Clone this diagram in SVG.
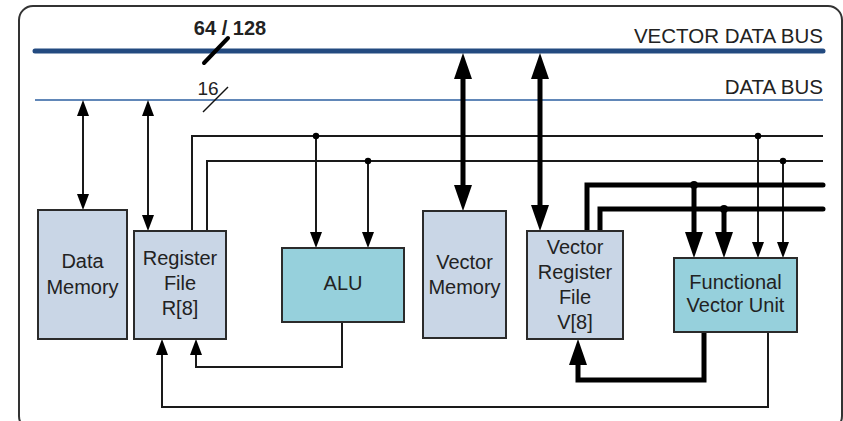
<svg xmlns="http://www.w3.org/2000/svg" width="843" height="421" viewBox="0 0 843 421">
<style>
.box{stroke:#2b2b2b;stroke-width:2}
.mem{fill:#c9d6e6}
.fu{fill:#96d0dc}
.lbl{font-family:"Liberation Sans",Arial,sans-serif;font-size:20px;fill:#222;text-anchor:middle}
.bus{font-family:"Liberation Sans",Arial,sans-serif;font-size:20.5px;fill:#222;text-anchor:end}
.thin{fill:none;stroke:#1a1a1a;stroke-width:2}
.thick{fill:none;stroke:#000;stroke-width:5}
.dot{fill:#000}
</style>
<defs>
<marker id="arrT" viewBox="0 0 16 12" refX="8" refY="6" markerWidth="16" markerHeight="12" markerUnits="userSpaceOnUse" orient="auto-start-reverse"><path d="M0,0 L16,6 L0,12 z" fill="#000"/></marker>
<marker id="arrB" viewBox="0 0 26 18" refX="13" refY="9" markerWidth="26" markerHeight="18" markerUnits="userSpaceOnUse" orient="auto-start-reverse"><path d="M0,0 L26,9 L0,18 z" fill="#000"/></marker>
</defs>
<rect x="19" y="6" width="823" height="424" rx="14" fill="#fff" stroke="#333" stroke-width="2"/>
<g id="buses">
<line x1="35" y1="51" x2="823" y2="51" stroke="#234a80" stroke-width="5" stroke-linecap="round"/>
<line x1="35" y1="100" x2="823" y2="100" stroke="#2c5fa0" stroke-width="1.6"/>
<text class="bus" x="823" y="43">VECTOR DATA BUS</text>
<text class="bus" x="823" y="94">DATA BUS</text>
<line x1="204" y1="63" x2="228" y2="38" stroke="#000" stroke-width="4" stroke-linecap="round"/>
<text x="230" y="35" font-family="Liberation Sans,Arial,sans-serif" font-size="20" font-weight="bold" fill="#222" text-anchor="middle">64 / 128</text>
<line x1="203" y1="112" x2="228" y2="87" stroke="#111" stroke-width="1.5"/>
<text x="208" y="95" font-family="Liberation Sans,Arial,sans-serif" font-size="19" fill="#222" text-anchor="middle">16</text>
</g>
<g id="connectors">
<path class="thin" d="M83,108 L83,202" marker-start="url(#arrT)" marker-end="url(#arrT)"/>
<path class="thin" d="M148,108 L148,223" marker-start="url(#arrT)" marker-end="url(#arrT)"/>
<path class="thin" d="M192,231 L192,136 L823,136"/>
<path class="thin" d="M207,231 L207,161 L823,161"/>
<path class="thin" d="M316,136 L316,240" marker-end="url(#arrT)"/>
<path class="thin" d="M368,161 L368,240" marker-end="url(#arrT)"/>
<path class="thin" d="M758,136 L758,250" marker-end="url(#arrT)"/>
<path class="thin" d="M783,161 L783,250" marker-end="url(#arrT)"/>
<circle class="dot" cx="316" cy="136" r="3.2"/>
<circle class="dot" cx="368" cy="161" r="3.2"/>
<circle class="dot" cx="758" cy="136" r="3.2"/>
<circle class="dot" cx="783" cy="161" r="3.2"/>
<path class="thin" d="M342,322 L342,367 L196,367 L196,347" marker-end="url(#arrT)"/>
<path class="thin" d="M768,332 L768,407 L162,407 L162,347" marker-end="url(#arrT)"/>
<path class="thick" d="M463,66 L463,198" marker-start="url(#arrB)" marker-end="url(#arrB)"/>
<path class="thick" d="M540,66 L540,218" marker-start="url(#arrB)" marker-end="url(#arrB)"/>
<path class="thick" d="M587,231 L587,185 L823,185" stroke-linecap="round"/>
<path class="thick" d="M600,231 L600,209 L823,209" stroke-linecap="round"/>
<path class="thick" d="M694,185 L694,245" marker-end="url(#arrB)"/>
<path class="thick" d="M724,209 L724,245" marker-end="url(#arrB)"/>
<circle class="dot" cx="694" cy="185" r="4"/>
<circle class="dot" cx="724" cy="209" r="4"/>
<path class="thick" d="M704,332 L704,380 L578,380 L578,352" marker-end="url(#arrB)"/>
</g>
<g id="data-memory">
<rect class="box mem" x="38" y="210" width="89" height="129"/>
<text class="lbl" x="82.5" y="268">Data</text>
<text class="lbl" x="82.5" y="294">Memory</text>
</g>
<g id="register-file">
<rect class="box mem" x="134" y="231" width="92" height="108"/>
<text class="lbl" x="180" y="265">Register</text>
<text class="lbl" x="180" y="290">File</text>
<text class="lbl" x="180" y="315">R[8]</text>
</g>
<g id="alu">
<rect class="box fu" x="282" y="248" width="122" height="74"/>
<text class="lbl" x="343" y="290">ALU</text>
</g>
<g id="vector-memory">
<rect class="box mem" x="423" y="211" width="83" height="127"/>
<text class="lbl" x="464.5" y="269">Vector</text>
<text class="lbl" x="464.5" y="294">Memory</text>
</g>
<g id="vector-register-file">
<rect class="box mem" x="527" y="231" width="96" height="108"/>
<text class="lbl" x="575" y="254">Vector</text>
<text class="lbl" x="575" y="279">Register</text>
<text class="lbl" x="575" y="304">File</text>
<text class="lbl" x="575" y="329">V[8]</text>
</g>
<g id="functional-vector-unit">
<rect class="box fu" x="674" y="258" width="123" height="74"/>
<text class="lbl" x="735.5" y="289">Functional</text>
<text class="lbl" x="735.5" y="312">Vector Unit</text>
</g>
</svg>
